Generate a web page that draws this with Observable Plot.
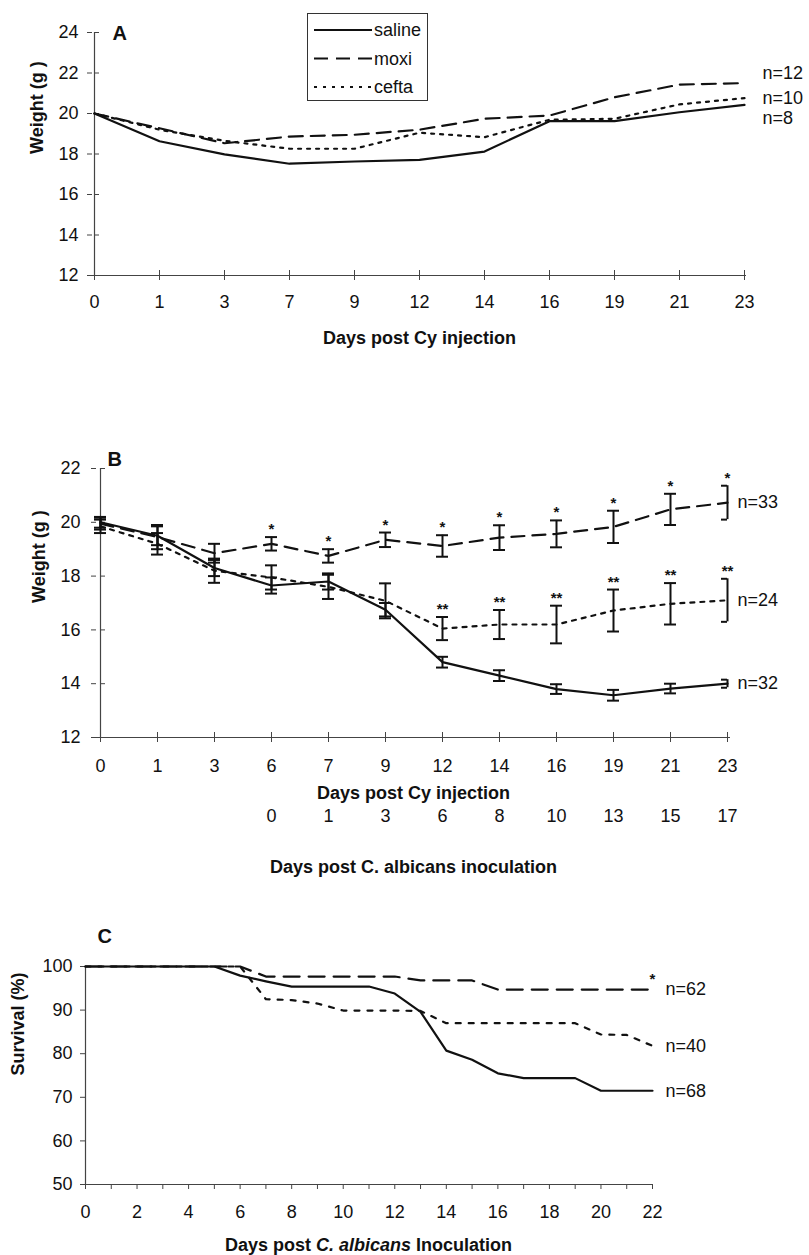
<!DOCTYPE html>
<html><head><meta charset="utf-8">
<script src="https://cdn.jsdelivr.net/npm/d3@7"></script>
<script src="https://cdn.jsdelivr.net/npm/@observablehq/plot@0.6"></script>
<style>
body{margin:0;background:#fff;font-family:"Liberation Sans",Arial,Helvetica,sans-serif;color:#111;}
#wrap{position:relative;width:809px;height:1255px;overflow:hidden;}
.panel{position:absolute;left:0;}
#legendA{position:absolute;left:307px;top:13px;width:119px;height:86px;border:1px solid #333;background:#fff;}
#titleC{position:absolute;left:85px;width:567px;top:1235px;text-align:center;font-weight:bold;font-size:18px;}
</style></head>
<body><div id="wrap"></div>
<script>
// ---------- Panel A data ----------
const daysA   = ["0","1","3","7","9","12","14","16","19","21","23"];
const salineA = [20.0, 18.63, 17.98, 17.52, 17.63, 17.71, 18.12, 19.62, 19.62, 20.06, 20.43];
const moxiA   = [20.0, 19.27, 18.53, 18.86, 18.95, 19.2, 19.74, 19.9, 20.8, 21.43, 21.5];
const ceftaA  = [20.0, 19.2, 18.65, 18.26, 18.26, 19.05, 18.83, 19.69, 19.74, 20.45, 20.76];
const yTicksA = [12, 14, 16, 18, 20, 22, 24];
const nA      = {saline: "n=8", moxi: "n=12", cefta: "n=10"};

// ---------- Panel B data ----------
const daysB    = ["0","1","3","6","7","9","12","14","16","19","21","23"];
const salineB  = [20.0, 19.5, 18.3, 17.65, 17.8, 16.75, 14.8, 14.3, 13.8, 13.57, 13.82, 14.0];
const salineSE = [0.2, 0.35, 0.3, 0.3, 0.3, 0.25, 0.2, 0.2, 0.18, 0.2, 0.18, 0.15];
const moxiB    = [19.95, 19.45, 18.85, 19.2, 18.75, 19.35, 19.12, 19.43, 19.57, 19.83, 20.48, 20.73];
const moxiSE   = [0.22, 0.45, 0.35, 0.25, 0.25, 0.27, 0.4, 0.46, 0.5, 0.6, 0.58, 0.63];
const ceftaB   = [19.85, 19.2, 18.2, 17.95, 17.6, 17.08, 16.05, 16.2, 16.2, 16.72, 16.97, 17.1];
const ceftaSE  = [0.25, 0.4, 0.45, 0.45, 0.45, 0.65, 0.43, 0.54, 0.7, 0.78, 0.77, 0.8];
const moxiSig  = ["","","","*","*","*","*","*","*","*","*","*"];
const ceftaSig = ["","","","","","","**","**","**","**","**","**"];
const yTicksB  = [12, 14, 16, 18, 20, 22];
const nB       = {saline: "n=32", moxi: "n=33", cefta: "n=24"};
const albDays  = ["6","7","9","12","14","16","19","21","23"];
const albLabels= ["0","1","3","6","8","10","13","15","17"];

// ---------- Panel C data ----------
const daysC   = [0,1,2,3,4,5,6,7,8,9,10,11,12,13,14,15,16,17,18,19,20,21,22];
const salineC = [100,100,100,100,100,100,97.9,96.6,95.4,95.4,95.4,95.4,93.8,89.6,80.7,78.6,75.5,74.4,74.4,74.4,71.5,71.5,71.5];
const moxiC   = [100,100,100,100,100,100,100,97.7,97.7,97.7,97.7,97.7,97.7,96.8,96.8,96.8,94.7,94.7,94.7,94.7,94.7,94.7,94.7];
const ceftaC  = [100,100,100,100,100,100,100,92.5,92.3,91.5,89.9,89.9,89.9,89.8,87.0,87.0,87.0,87.0,87.0,87.0,84.4,84.3,81.8];
const xTicksC = [0,1,2,3,4,5,6,7,8,9,10,11,12,13,14,15,16,17,18,19,20,21,22];
const yTicksC = [50, 60, 70, 80, 90, 100];
const nC      = {saline: "n=68", moxi: "n=62", cefta: "n=40"};

// ---------- helpers ----------
const FONT = "'Liberation Sans', Arial, Helvetica, sans-serif";
const INK = "#111";
const AX = "#444";
const style = {fontFamily: FONT, fontSize: "18px", color: INK, background: "transparent", overflow: "visible"};
const names = ["saline", "moxi", "cefta"];
const wrap = document.getElementById("wrap");
function place(el, top) { const d = document.createElement("div"); d.className = "panel"; d.style.top = top + "px"; d.appendChild(el); wrap.appendChild(d); }

// ---------- Panel A ----------
const valsA = {saline: salineA, moxi: moxiA, cefta: ceftaA};
const dataA = names.flatMap(s => daysA.map((d, i) => ({day: d, s, v: valsA[s][i]})));
const dashA = {saline: null, moxi: "14,8", cefta: "3,6"};
const lastA = names.map(s => ({day: daysA[daysA.length - 1], s, v: valsA[s][daysA.length - 1], t: nA[s]}));
const nDyA = {saline: 13, moxi: -10, cefta: 0};

const plotA = Plot.plot({
  width: 809, height: 440,
  marginLeft: 92, marginRight: 63, marginTop: 32, marginBottom: 165,
  style,
  x: {type: "point", domain: daysA, padding: 0, label: null},
  y: {domain: [12, 24], label: null},
  marks: [
    Plot.ruleY([12], {stroke: AX, strokeWidth: 1.2}),
    Plot.ruleX([daysA[0]], {stroke: AX, strokeWidth: 1.2}),
    Plot.ruleX(daysA, {x: d => d, y1: 12, y2: 12, insetTop: -5, stroke: AX}),
    Plot.ruleY(yTicksA, {y: d => d, x1: () => daysA[0], x2: () => daysA[0], insetRight: -5, stroke: AX}),
    Plot.axisX({tickSize: 5, tickPadding: 15, stroke: AX}),
    Plot.axisY({ticks: yTicksA, tickSize: 5, tickPadding: 9, stroke: AX, tickFormat: d => d}),
    ...names.map(s => Plot.line(dataA.filter(d => d.s === s), {x: "day", y: "v", stroke: INK, strokeWidth: 2.2, strokeDasharray: dashA[s] || undefined})),
    ...names.map(s => Plot.text(lastA.filter(d => d.s === s), {x: "day", y: "v", text: "t", dx: 18, dy: nDyA[s], textAnchor: "start"})),
    Plot.text(["A"], {frameAnchor: "top-left", dx: 20, dy: -7, fontWeight: "bold", fontSize: 20, textAnchor: "start"}),
    Plot.text(["Weight (g )"], {frameAnchor: "left", rotate: -90, dx: -55, fontWeight: "bold"}),
    Plot.text(["Days post Cy injection"], {frameAnchor: "bottom", dy: 68, fontWeight: "bold"})
  ]
});
place(plotA, 0);

// legend for panel A
const leg = document.createElement("div");
leg.id = "legendA";
const lsvg = d3.select(leg).append("svg").attr("width", 119).attr("height", 86)
  .style("font-family", FONT).style("font-size", "18px");
names.forEach((s, i) => {
  const y = 16 + i * 28.5;
  lsvg.append("line").attr("x1", 6).attr("x2", 64).attr("y1", y).attr("y2", y)
    .attr("stroke", INK).attr("stroke-width", 2.2).attr("stroke-dasharray", dashA[s]);
  lsvg.append("text").attr("x", 66).attr("y", y).attr("dy", "0.35em").attr("fill", INK).text(s);
});
wrap.appendChild(leg);

// ---------- Panel B ----------
const valsB = {saline: salineB, moxi: moxiB, cefta: ceftaB};
const seB = {saline: salineSE, moxi: moxiSE, cefta: ceftaSE};
const sigB = {saline: daysB.map(() => ""), moxi: moxiSig, cefta: ceftaSig};
const dataB = names.flatMap(s => daysB.map((d, i) => ({day: d, s, v: valsB[s][i], lo: valsB[s][i] - seB[s][i], hi: valsB[s][i] + seB[s][i], sig: sigB[s][i]})));
const dashB = {saline: null, moxi: "13,8", cefta: "4,6"};
const lastDayB = daysB[daysB.length - 1];
const lastB = names.map(s => ({day: lastDayB, s, v: valsB[s][daysB.length - 1], t: nB[s]}));
const albData = albDays.map((d, i) => ({day: d, t: albLabels[i]}));

const plotB = Plot.plot({
  width: 809, height: 440,
  marginLeft: 96, marginRight: 79, marginTop: 28, marginBottom: 143,
  style,
  x: {type: "point", domain: daysB, padding: 0, label: null},
  y: {domain: [12, 22], label: null},
  marks: [
    Plot.ruleY([12], {stroke: AX, strokeWidth: 1.2}),
    Plot.ruleX([daysB[0]], {stroke: AX, strokeWidth: 1.2}),
    Plot.ruleX(daysB, {x: d => d, y1: 12, y2: 12, insetTop: -5, stroke: AX}),
    Plot.ruleY(yTicksB, {y: d => d, x1: () => daysB[0], x2: () => daysB[0], insetRight: -5, stroke: AX}),
    Plot.axisX({tickSize: 5, tickPadding: 17, stroke: AX}),
    Plot.axisY({ticks: yTicksB, tickSize: 5, tickPadding: 11, stroke: AX, tickFormat: d => d}),
    Plot.ruleX(dataB, {x: "day", y1: "lo", y2: "hi", stroke: INK, strokeWidth: 2}),
    Plot.ruleY(dataB, {filter: d => d.day !== lastDayB, y: "lo", x1: "day", x2: "day", insetLeft: -6, insetRight: -6, stroke: INK, strokeWidth: 2}),
    Plot.ruleY(dataB, {filter: d => d.day !== lastDayB, y: "hi", x1: "day", x2: "day", insetLeft: -6, insetRight: -6, stroke: INK, strokeWidth: 2}),
    Plot.ruleY(dataB, {filter: d => d.day === lastDayB, y: "lo", x1: "day", x2: "day", insetLeft: -6, insetRight: 0, stroke: INK, strokeWidth: 2}),
    Plot.ruleY(dataB, {filter: d => d.day === lastDayB, y: "hi", x1: "day", x2: "day", insetLeft: -6, insetRight: 0, stroke: INK, strokeWidth: 2}),
    ...names.map(s => Plot.line(dataB.filter(d => d.s === s), {x: "day", y: "v", stroke: INK, strokeWidth: 2.2, strokeDasharray: dashB[s] || undefined})),
    Plot.text(dataB.filter(d => d.sig), {x: "day", y: "hi", text: "sig", lineAnchor: "bottom", dy: -3, fontSize: 15, fontWeight: "bold"}),
    Plot.text(lastB, {x: "day", y: "v", text: "t", dx: 10, textAnchor: "start"}),
    Plot.text(albData, {x: "day", text: "t", frameAnchor: "bottom", dy: 84}),
    Plot.text(["B"], {frameAnchor: "top-left", dx: 11, dy: -17, fontWeight: "bold", fontSize: 20, textAnchor: "start"}),
    Plot.text(["Weight (g )"], {frameAnchor: "left", rotate: -90, dx: -57, fontWeight: "bold"}),
    Plot.text(["Days post Cy injection"], {frameAnchor: "bottom", dy: 61, fontWeight: "bold"}),
    Plot.text(["Days post C. albicans inoculation"], {frameAnchor: "bottom", dy: 135, fontWeight: "bold"})
  ]
});
place(plotB, 440);

// ---------- Panel C ----------
const valsC = {saline: salineC, moxi: moxiC, cefta: ceftaC};
const dataC = names.flatMap(s => daysC.map((d, i) => ({day: d, s, v: valsC[s][i]})));
const dashC = {saline: null, moxi: "16,9", cefta: "5,8"};
const lastC = names.map(s => ({day: daysC[daysC.length - 1], s, v: valsC[s][daysC.length - 1], t: nC[s]}));
const starC = [{day: daysC[daysC.length - 1], v: moxiC[moxiC.length - 1], t: "*"}];

const plotC = Plot.plot({
  width: 809, height: 375,
  marginLeft: 85, marginRight: 157, marginTop: 86, marginBottom: 71,
  style,
  x: {domain: [0, 22], label: null},
  y: {domain: [50, 100], label: null},
  marks: [
    Plot.ruleY([50], {stroke: AX, strokeWidth: 1.2}),
    Plot.ruleX([0], {stroke: AX, strokeWidth: 1.2}),
    Plot.axisX({ticks: xTicksC, tickFormat: d => (d % 2 === 0 ? String(d) : ""), tickSize: 5, tickPadding: 16, stroke: AX}),
    Plot.axisY({ticks: yTicksC, tickSize: 5, tickPadding: 8, stroke: AX, tickFormat: d => d}),
    ...names.map(s => Plot.line(dataC.filter(d => d.s === s), {x: "day", y: "v", stroke: INK, strokeWidth: 2.2, strokeDasharray: dashC[s] || undefined})),
    Plot.text(starC, {x: "day", y: "v", text: "t", dy: -10, fontSize: 15, fontWeight: "bold"}),
    Plot.text(lastC, {x: "day", y: "v", text: "t", dx: 13, textAnchor: "start"}),
    Plot.text(["C"], {frameAnchor: "top-left", dx: 12, dy: -38, fontWeight: "bold", fontSize: 20, textAnchor: "start"}),
    Plot.text(["Survival (%)"], {frameAnchor: "left", rotate: -90, dx: -67, fontWeight: "bold"})
  ]
});
place(plotC, 880);

const tc = document.createElement("div");
tc.id = "titleC";
tc.innerHTML = "Days post <i>C. albicans</i> Inoculation";
wrap.appendChild(tc);
</script>
</body></html>
